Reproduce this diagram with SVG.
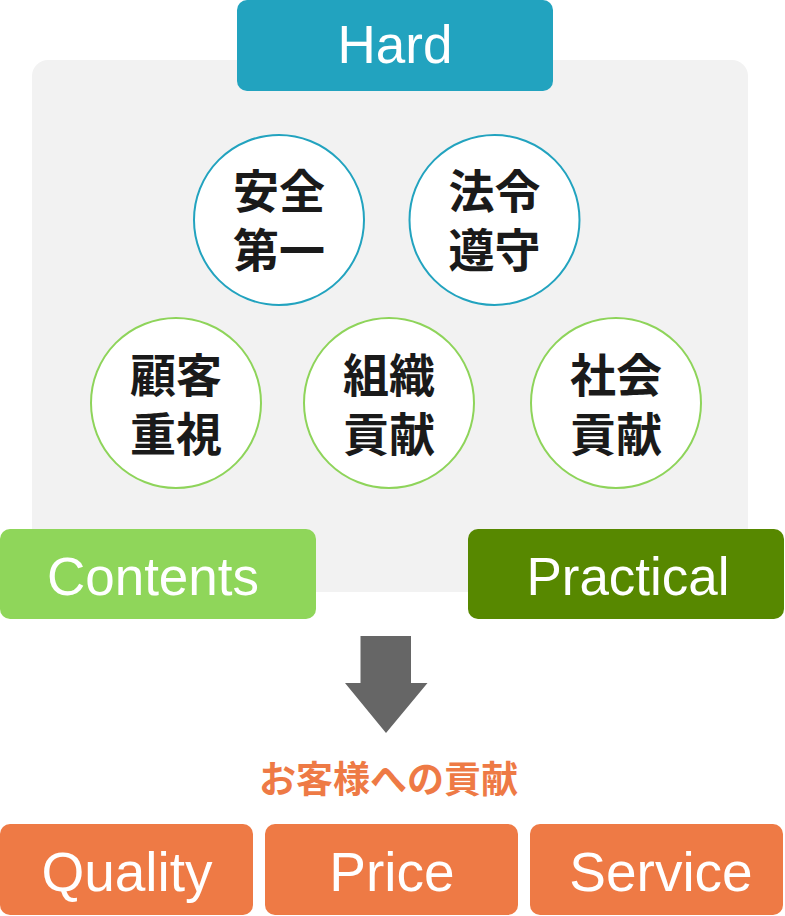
<svg xmlns="http://www.w3.org/2000/svg" width="785" height="916" viewBox="0 0 785 916">
<style>
.lat{font-family:"Liberation Sans",Arial,sans-serif;font-size:53px;fill:#fff;text-anchor:middle}
.big{font-size:55px}
.jp{font-family:"Noto Sans CJK JP",sans-serif;font-weight:700;font-size:46px;fill:#1a1a1a;text-anchor:middle}
.cb{fill:#fff;stroke:#22a3bf;stroke-width:2}
.cg{fill:#fff;stroke:#8ed45a;stroke-width:2}
.ob{fill:#ee7a45}
</style>
<rect id="panel" x="32" y="60" width="716" height="532" rx="16" fill="#f2f2f2"/>
<g id="hard"><rect x="237" y="0" width="316" height="91" rx="10" fill="#22a3bf"/><text class="lat" x="395" y="63">Hard</text></g>
<g id="n-anzen"><circle class="cb" cx="279" cy="220" r="85"/><text class="jp" x="279" y="208">安全<tspan x="279" dy="59">第一</tspan></text></g>
<g id="n-hourei"><circle class="cb" cx="494.5" cy="220" r="85"/><text class="jp" x="494.5" y="208">法令<tspan x="494.5" dy="59">遵守</tspan></text></g>
<g id="n-kokyaku"><circle class="cg" cx="176" cy="403" r="85"/><text class="jp" x="176" y="392">顧客<tspan x="176" dy="59">重視</tspan></text></g>
<g id="n-soshiki"><circle class="cg" cx="389" cy="403" r="85"/><text class="jp" x="389" y="392">組織<tspan x="389" dy="59">貢献</tspan></text></g>
<g id="n-shakai"><circle class="cg" cx="616" cy="403" r="85"/><text class="jp" x="616" y="392">社会<tspan x="616" dy="59">貢献</tspan></text></g>
<g id="contents"><rect x="0" y="529" width="316" height="90" rx="10" fill="#8fd65a"/><text class="lat" x="153" y="595">Contents</text></g>
<g id="practical"><rect x="468" y="529" width="316" height="90" rx="10" fill="#578800"/><text class="lat" x="628" y="595">Practical</text></g>
<g id="connectors"><polygon points="360.5,636 411,636 411,683 427.5,683 386,733 345,683 360.5,683" fill="#666666"/></g>
<g id="label"><text x="388.5" y="793" font-family="'Noto Sans CJK JP',sans-serif" font-weight="700" font-size="37" fill="#ee7a45" text-anchor="middle">お客様への貢献</text></g>
<g id="quality"><rect class="ob" x="0" y="824" width="253" height="91" rx="10"/><text class="lat big" x="127" y="891">Quality</text></g>
<g id="price"><rect class="ob" x="265" y="824" width="253" height="91" rx="10"/><text class="lat big" x="392" y="891">Price</text></g>
<g id="service"><rect class="ob" x="530" y="824" width="253" height="91" rx="10"/><text class="lat big" x="661" y="891">Service</text></g>
</svg>
